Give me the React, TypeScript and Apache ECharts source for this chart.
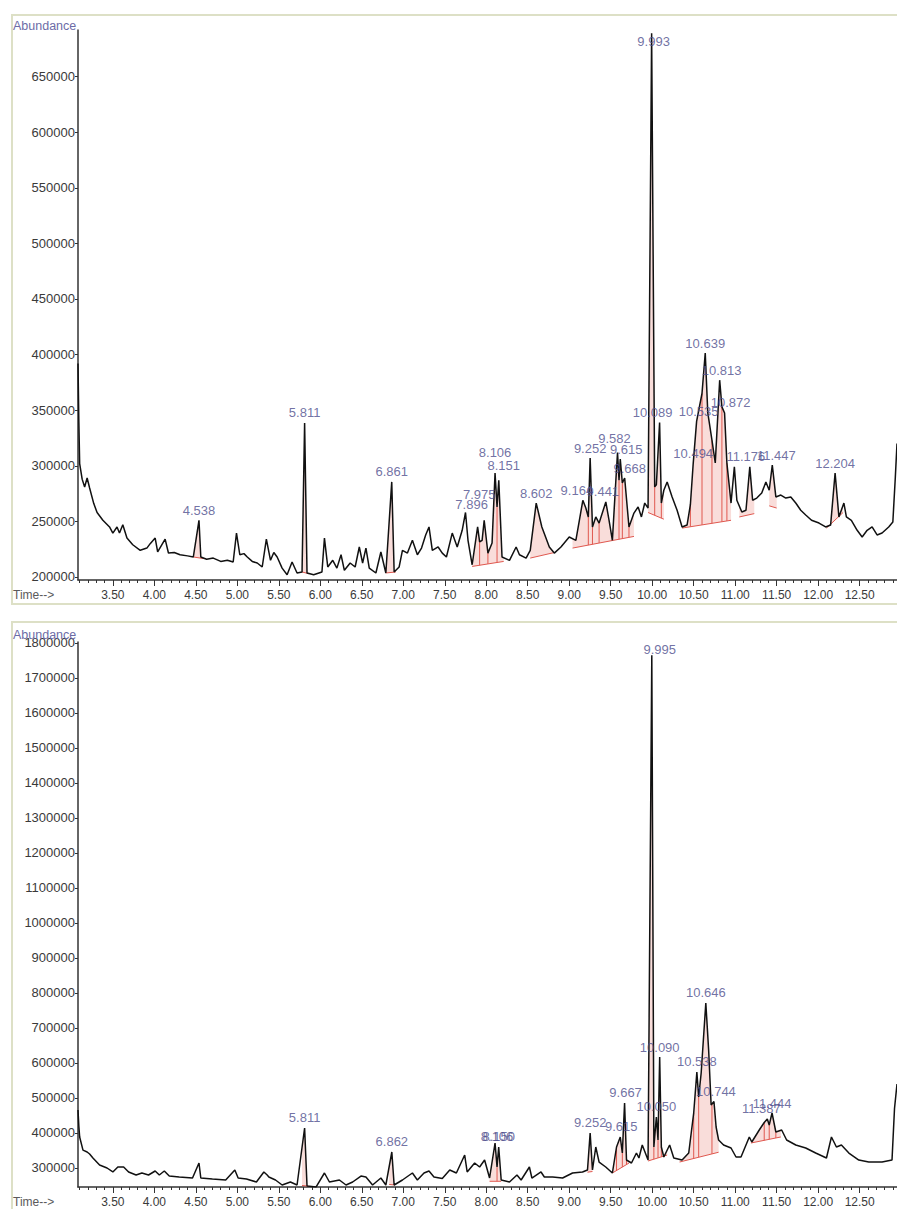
import { useEffect, useRef } from 'react'
import * as echarts from 'echarts'

// Two GC-MS total ion chromatograms, stacked. Retention time (min) vs abundance.

const FONT = '"Liberation Sans", Arial, sans-serif'
const AXIS_COLOR = '#333'
const LABEL_COLOR = '#3a3a3a'
const PEAK_LABEL_COLOR = '#4d4d8c'
const FRAME_COLOR = '#dde0c6'
const BASE_RED = '#e0584f'
const FILL_PINK = 'rgba(236, 150, 140, 0.32)'

const X_MAJOR = [3.5, 4.0, 4.5, 5.0, 5.5, 6.0, 6.5, 7.0, 7.5, 8.0, 8.5, 9.0, 9.5, 10.0, 10.5, 11.0, 11.5, 12.0, 12.5]
const Y_TICKS_TOP = [200000, 250000, 300000, 350000, 400000, 450000, 500000, 550000, 600000, 650000]
const Y_TICKS_BOTTOM = [
  300000, 400000, 500000, 600000, 700000, 800000, 900000, 1000000, 1100000, 1200000, 1300000, 1400000,
  1500000, 1600000, 1700000, 1800000,
]

// [time, abundance]
const SIGNAL_TOP = [
  [3.08, 392000], [3.09, 340000], [3.1, 302000], [3.13, 288000], [3.16, 281000], [3.19, 289000],
  [3.22, 280000], [3.27, 266000], [3.31, 258000], [3.38, 251000], [3.46, 245000], [3.5, 239500],
  [3.55, 245000], [3.58, 239500], [3.62, 247000], [3.67, 235000], [3.74, 229000], [3.83, 224000],
  [3.91, 226000], [3.95, 230000], [4.01, 235000], [4.04, 222500], [4.13, 234000], [4.17, 221600],
  [4.24, 222000], [4.31, 220000], [4.4, 219000], [4.47, 218000], [4.538, 251000], [4.56, 218000],
  [4.63, 216000], [4.71, 217000], [4.8, 214000], [4.88, 215000], [4.95, 213500], [4.99, 239500],
  [5.03, 220000], [5.08, 221000], [5.12, 218000], [5.18, 214000], [5.24, 212600], [5.3, 209000],
  [5.35, 234000], [5.4, 215000], [5.44, 222000], [5.48, 218000], [5.54, 208000], [5.6, 202000],
  [5.66, 213500], [5.72, 203600], [5.78, 204500], [5.811, 338500], [5.84, 203600], [5.92, 202000],
  [6.02, 204500], [6.05, 235000], [6.09, 209000], [6.15, 215000], [6.2, 208000], [6.25, 220000],
  [6.29, 206000], [6.36, 212600], [6.42, 209000], [6.47, 227000], [6.51, 212600], [6.55, 226000],
  [6.59, 208000], [6.67, 203600], [6.73, 222500], [6.79, 203600], [6.861, 285500], [6.89, 204500],
  [6.95, 209000], [6.99, 224000], [7.05, 221500], [7.11, 233000], [7.17, 220000], [7.22, 226000],
  [7.27, 237800], [7.31, 245000], [7.35, 224000], [7.42, 227000], [7.47, 221500], [7.52, 218000],
  [7.59, 239500], [7.65, 227000], [7.71, 242000], [7.75, 258000], [7.78, 233000], [7.83, 211000],
  [7.896, 245000], [7.92, 231500], [7.95, 233000], [7.975, 251000], [8.02, 221500], [8.07, 230500],
  [8.106, 293500], [8.13, 263000], [8.151, 287000], [8.19, 218000], [8.28, 215000], [8.36, 227000],
  [8.4, 220000], [8.48, 217000], [8.53, 224000], [8.602, 266500], [8.67, 245000], [8.76, 227000],
  [8.82, 221500], [8.9, 227000], [9.0, 236000], [9.08, 233000], [9.12, 250000], [9.164, 269000],
  [9.2, 262000], [9.23, 254000], [9.252, 307000], [9.28, 245000], [9.32, 254000], [9.36, 248500],
  [9.441, 267500], [9.48, 251000], [9.52, 233000], [9.56, 284500], [9.582, 312000], [9.6, 287000],
  [9.615, 306000], [9.64, 284500], [9.668, 289000], [9.72, 245000], [9.78, 257500], [9.83, 263000],
  [9.87, 254000], [9.91, 266500], [9.95, 262000], [9.993, 689000], [10.03, 281000], [10.05, 283000],
  [10.089, 339000], [10.11, 266500], [10.14, 278000], [10.18, 285500], [10.24, 272000], [10.3, 260000],
  [10.36, 245000], [10.42, 246700], [10.46, 265000], [10.494, 302000], [10.535, 340000], [10.6, 365000],
  [10.639, 401400], [10.67, 347500], [10.72, 323000], [10.76, 302500], [10.813, 377000], [10.84, 353000],
  [10.872, 347500], [10.9, 302500], [10.95, 266500], [10.99, 299000], [11.02, 269000], [11.08, 258500],
  [11.13, 260000], [11.176, 299000], [11.21, 269000], [11.26, 271000], [11.32, 275500], [11.37, 285500],
  [11.41, 278000], [11.447, 300700], [11.49, 272000], [11.55, 273700], [11.61, 271000], [11.67, 272000],
  [11.73, 266500], [11.79, 260000], [11.85, 255800], [11.92, 251000], [12.01, 248500], [12.09, 245000],
  [12.15, 246700], [12.204, 293500], [12.25, 254000], [12.31, 266500], [12.34, 254000], [12.4, 251000],
  [12.47, 242000], [12.53, 236000], [12.59, 242000], [12.65, 245000], [12.71, 237800], [12.77, 239500],
  [12.85, 245000], [12.9, 249500], [12.93, 290000], [12.95, 320000],
]

// [time, abundance]
const SIGNAL_BOTTOM = [
  [3.08, 465700], [3.09, 420000], [3.1, 388600], [3.14, 351000], [3.19, 345700], [3.22, 340000],
  [3.26, 328500], [3.34, 308500], [3.43, 300000], [3.5, 288600], [3.56, 302800], [3.63, 302800],
  [3.69, 288600], [3.78, 280000], [3.85, 285700], [3.93, 280000], [4.01, 291400], [4.06, 280000],
  [4.12, 291400], [4.18, 277000], [4.3, 274300], [4.46, 271400], [4.538, 314300], [4.56, 271400],
  [4.7, 268600], [4.86, 265700], [4.97, 294300], [5.01, 271400], [5.11, 268600], [5.23, 260000],
  [5.32, 288600], [5.36, 280000], [5.38, 274300], [5.46, 265700], [5.54, 251400], [5.64, 260000],
  [5.72, 251400], [5.811, 414300], [5.84, 248600], [5.95, 246000], [6.05, 285700], [6.11, 260000],
  [6.23, 265700], [6.31, 251400], [6.39, 260000], [6.49, 277000], [6.55, 274300], [6.63, 251400],
  [6.73, 271400], [6.79, 251400], [6.862, 345700], [6.89, 251400], [6.99, 265700], [7.11, 285700],
  [7.17, 265700], [7.25, 285700], [7.31, 291400], [7.37, 274300], [7.47, 270000], [7.56, 294300],
  [7.64, 285700], [7.74, 337000], [7.77, 288600], [7.86, 314300], [7.92, 302800], [7.98, 322800],
  [8.04, 271400], [8.106, 371400], [8.13, 302800], [8.15, 360000], [8.18, 265700], [8.28, 260000],
  [8.37, 280000], [8.42, 265700], [8.52, 302800], [8.55, 271400], [8.66, 288600], [8.7, 274300],
  [8.8, 274300], [8.92, 271400], [9.04, 285700], [9.16, 288600], [9.22, 294300], [9.252, 400000],
  [9.28, 294300], [9.32, 360000], [9.36, 317000], [9.44, 302800], [9.52, 285700], [9.57, 360000],
  [9.615, 388600], [9.64, 342800], [9.667, 485700], [9.69, 322800], [9.75, 314300], [9.81, 342800],
  [9.84, 328500], [9.88, 365700], [9.95, 322800], [9.995, 1765000], [10.02, 360000], [10.05, 445700],
  [10.07, 380000], [10.09, 617000], [10.11, 360000], [10.14, 331400], [10.21, 365700], [10.26, 328500],
  [10.36, 322800], [10.44, 342800], [10.5, 457100], [10.538, 574300], [10.56, 502800], [10.59, 571400],
  [10.646, 771400], [10.68, 637100], [10.71, 480000], [10.744, 490000], [10.77, 417100], [10.8, 380000],
  [10.86, 365700], [10.95, 357100], [11.01, 331400], [11.07, 331400], [11.17, 388600], [11.2, 374300],
  [11.29, 408600], [11.35, 430000], [11.387, 440000], [11.41, 422800], [11.444, 457100], [11.49, 402800],
  [11.56, 408600], [11.62, 380000], [11.73, 365700], [11.85, 357100], [11.97, 342800], [12.1, 328500],
  [12.16, 388600], [12.22, 360000], [12.28, 365700], [12.37, 342800], [12.49, 322800], [12.61, 317000],
  [12.77, 317000], [12.89, 322800], [12.92, 470000], [12.95, 540000],
]

const PEAKS_TOP = [
  4.538, 5.811, 6.861, 7.896, 7.975, 8.106, 8.151, 8.602, 9.164, 9.252, 9.441, 9.582, 9.615, 9.668,
  9.993, 10.089, 10.494, 10.535, 10.639, 10.813, 10.872, 11.176, 11.447, 12.204,
]
const PEAKS_BOTTOM = [
  5.811, 6.862, 8.106, 8.15, 9.252, 9.615, 9.667, 9.995, 10.05, 10.09, 10.538, 10.646, 10.744, 11.387,
  11.444,
]

// integration baselines: [tStart, vStart, tEnd, vEnd], plus drop-line times per baseline
const BASELINES_TOP = [
  [4.47, 218000, 4.6, 216500],
  [5.78, 204500, 5.86, 203000],
  [6.79, 203600, 6.91, 204500],
  [7.83, 209500, 8.21, 214000],
  [8.53, 217000, 8.82, 222000],
  [9.04, 226000, 9.78, 236500],
  [9.95, 258000, 10.14, 252000],
  [10.36, 244000, 10.95, 251000],
  [11.05, 254000, 11.23, 257000],
  [11.41, 264000, 11.5, 262000],
  [12.1, 244000, 12.3, 258000],
]
const DROPS_TOP = [
  [], [], [], [7.92, 8.02, 8.13], [], [9.23, 9.28, 9.36, 9.52, 9.6, 9.64, 9.72], [10.03, 10.11],
  [10.46, 10.6, 10.72, 10.84, 10.9], [], [], [],
]
const BASELINES_BOTTOM = [
  [5.78, 250000, 5.86, 248000],
  [6.83, 253000, 6.9, 251400],
  [8.04, 262000, 8.18, 262000],
  [9.22, 288000, 9.28, 290000],
  [9.52, 285700, 9.72, 314000],
  [9.95, 320000, 10.18, 337000],
  [10.33, 317000, 10.8, 345000],
  [11.19, 371400, 11.55, 388600],
]
const DROPS_BOTTOM = [[], [], [8.13], [], [9.57, 9.64, 9.69], [10.02, 10.07, 10.11], [10.5, 10.56, 10.72], [11.35, 11.41, 11.49]]

// label nudges [dx, dy] in px where ChemStation stacked overlapping labels
const NUDGE_TOP = [
  [0, 0], [0, 0], [0, 0], [-6, -12], [-5, -16], [0, -11], [5, -5], [0, 0], [-6, 0], [0, 0], [-3, 0],
  [-3, -4], [6, 0], [5, 0], [2, 18], [-7, 0], [0, 0], [2, 0], [0, 0], [2, 0], [6, 0], [-4, 0], [4, 0], [0, 0],
]
const NUDGE_BOTTOM = [
  [0, 0], [0, 0], [2, 3], [0, 0], [0, 0], [1, 0], [1, 0], [8, 4], [0, 0], [0, 0], [0, 0], [0, 0], [2, 0],
  [-6, 0], [0, 0],
]

const X_MIN = 3.08
const X_MAX = 12.95

function valueAt(signal: number[][], t: number) {
  for (let i = 1; i < signal.length; i++) {
    const [t1, v1] = signal[i]
    if (t1 >= t) {
      const [t0, v0] = signal[i - 1]
      return v0 + ((v1 - v0) * (t - t0)) / (t1 - t0)
    }
  }
  return signal[signal.length - 1][1]
}

function minorTicks() {
  const out: number[] = []
  for (let k = 31; k <= 129; k++) if (k % 5 !== 0) out.push(k / 10)
  return out
}

function xAxes(gridIndex: number) {
  return [
    {
      gridIndex,
      type: 'value',
      min: X_MIN,
      max: X_MAX,
      axisLine: { show: true, onZero: false, lineStyle: { color: AXIS_COLOR, width: 1.5 } },
      axisTick: { show: true, customValues: X_MAJOR, length: 6, lineStyle: { color: AXIS_COLOR } },
      axisLabel: {
        customValues: X_MAJOR,
        formatter: (v: number) => v.toFixed(2),
        color: LABEL_COLOR,
        fontSize: 12,
        margin: 9,
      },
      splitLine: { show: false },
    },
    {
      gridIndex,
      type: 'value',
      min: X_MIN,
      max: X_MAX,
      position: 'bottom',
      axisLine: { show: false, onZero: false },
      axisTick: { show: true, customValues: minorTicks(), length: 3, lineStyle: { color: AXIS_COLOR } },
      axisLabel: { show: false },
      splitLine: { show: false },
    },
  ]
}

function yAxis(gridIndex: number, min: number, max: number, ticks: number[]) {
  return {
    gridIndex,
    type: 'value',
    min,
    max,
    axisLine: { show: true, onZero: false, lineStyle: { color: AXIS_COLOR, width: 1.5 } },
    axisTick: { show: true, customValues: ticks, length: 3, lineStyle: { color: AXIS_COLOR } },
    axisLabel: {
      customValues: ticks,
      formatter: (v: number) => String(v),
      color: LABEL_COLOR,
      fontSize: 13,
      margin: 3,
    },
    splitLine: { show: false },
  }
}

function traceSeries(axisIdx: number, signal: number[][]) {
  return {
    type: 'line',
    xAxisIndex: axisIdx * 2,
    yAxisIndex: axisIdx,
    data: signal,
    showSymbol: false,
    lineStyle: { color: '#111', width: 1.5 },
    z: 3,
  }
}

function baselineSeries(axisIdx: number, baselines: number[][], drops: number[][], signal: number[][]) {
  return {
    type: 'custom',
    xAxisIndex: axisIdx * 2,
    yAxisIndex: axisIdx,
    data: baselines,
    encode: { x: [0, 2], y: [1, 3] },
    clip: true,
    z: 2,
    renderItem: (params: any, api: any) => {
      const [t0, v0, t1, v1] = baselines[params.dataIndex]
      const inner = signal.filter(([t]) => t > t0 && t < t1)
      const pts = [
        api.coord([t0, v0]),
        api.coord([t0, valueAt(signal, t0)]),
        ...inner.map((p) => api.coord(p)),
        api.coord([t1, valueAt(signal, t1)]),
        api.coord([t1, v1]),
      ]
      const a = api.coord([t0, v0])
      const b = api.coord([t1, v1])
      const children: any[] = [
        { type: 'polygon', shape: { points: pts }, style: { fill: FILL_PINK } },
        {
          type: 'line',
          shape: { x1: a[0], y1: a[1], x2: b[0], y2: b[1] },
          style: { stroke: BASE_RED, lineWidth: 1 },
        },
      ]
      for (const t of drops[params.dataIndex]) {
        const base = v0 + ((v1 - v0) * (t - t0)) / (t1 - t0)
        const p = api.coord([t, base])
        const q = api.coord([t, valueAt(signal, t)])
        children.push({
          type: 'line',
          shape: { x1: p[0], y1: p[1], x2: q[0], y2: q[1] },
          style: { stroke: BASE_RED, lineWidth: 1 },
        })
      }
      return { type: 'group', children }
    },
  }
}

function peakLabelSeries(axisIdx: number, peaks: number[], nudges: number[][], signal: number[][]) {
  return {
    type: 'scatter',
    xAxisIndex: axisIdx * 2,
    yAxisIndex: axisIdx,
    symbolSize: 1,
    itemStyle: { color: 'transparent' },
    z: 4,
    silent: true,
    data: peaks.map((t, i) => ({
      value: [t, valueAt(signal, t)],
      label: { offset: nudges[i] },
    })),
    label: {
      show: true,
      position: 'top',
      distance: 3,
      formatter: (p: any) => p.value[0].toFixed(3),
      color: PEAK_LABEL_COLOR,
      fontSize: 13,
      fontFamily: FONT,
    },
  }
}

function headerTexts(top: number, bottom: number) {
  return [
    {
      type: 'text',
      x: 13,
      y: top,
      style: { text: 'Abundance', fill: '#6c6ca6', font: `12.5px ${FONT}` },
      z: 10,
    },
    {
      type: 'text',
      x: 13,
      y: bottom,
      style: { text: 'Time-->', fill: '#5a5a5a', font: `12px ${FONT}`, verticalAlign: 'middle' },
      z: 10,
    },
  ]
}

export default function App() {
  const ref = useRef<HTMLDivElement>(null)

  useEffect(() => {
    document.body.style.margin = '0'
    const el = ref.current
    if (!el) return
    const chart = echarts.init(el, undefined, { renderer: 'svg' })
    chart.setOption({
      animation: false,
      backgroundColor: '#fff',
      textStyle: { fontFamily: FONT },
      grid: [
        { left: 78, top: 30, width: 820, height: 550 },
        { left: 78, top: 642, width: 820, height: 545 },
      ],
      xAxis: [...xAxes(0), ...xAxes(1)],
      yAxis: [yAxis(0, 197300, 691900, Y_TICKS_TOP), yAxis(1, 245700, 1802800, Y_TICKS_BOTTOM)],
      series: [
        baselineSeries(0, BASELINES_TOP, DROPS_TOP, SIGNAL_TOP),
        traceSeries(0, SIGNAL_TOP),
        peakLabelSeries(0, PEAKS_TOP, NUDGE_TOP, SIGNAL_TOP),
        baselineSeries(1, BASELINES_BOTTOM, DROPS_BOTTOM, SIGNAL_BOTTOM),
        traceSeries(1, SIGNAL_BOTTOM),
        peakLabelSeries(1, PEAKS_BOTTOM, NUDGE_BOTTOM, SIGNAL_BOTTOM),
      ],
      graphic: [
        {
          type: 'rect',
          shape: { x: 12, y: 15, width: 900, height: 589 },
          style: { fill: 'none', stroke: FRAME_COLOR, lineWidth: 2 },
          z: 0,
        },
        {
          type: 'rect',
          shape: { x: 12, y: 622, width: 900, height: 600 },
          style: { fill: 'none', stroke: FRAME_COLOR, lineWidth: 2 },
          z: 0,
        },
        ...headerTexts(19, 595),
        ...headerTexts(628, 1202),
      ],
    })
    return () => chart.dispose()
  }, [])

  return <div ref={ref} style={{ width: 897, height: 1209 }} />
}
